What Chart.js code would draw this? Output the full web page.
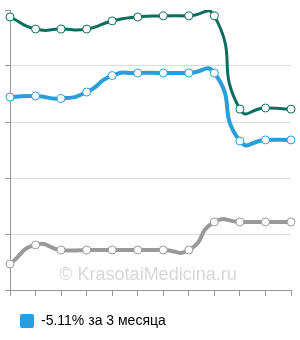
<!DOCTYPE html>
<html>
<head>
<meta charset="utf-8">
<script src="https://cdn.jsdelivr.net/npm/chart.js@4"></script>
<style>
  html, body { margin: 0; padding: 0; background: #fff; }
  #wrap { width: 300px; height: 340px; }
</style>
</head>
<body>
<div id="wrap"><canvas id="lineChart" width="300" height="340"></canvas></div>
<script>
var labels = ['1', '2', '3', '4', '5', '6', '7', '8', '9', '10', '11', '12'];
var tealValues = [97.5, 93.2, 93.2, 93.2, 96.1, 97.5, 97.9, 97.9, 97.9, 64.6, 65.0, 64.6];
var blueValues = [68.9, 69.3, 68.4, 70.7, 76.6, 77.5, 77.5, 77.5, 77.5, 53.2, 53.6, 53.6];
var grayValues = [9.3, 16.1, 14.3, 14.3, 14.3, 14.3, 14.3, 14.3, 24.3, 24.3, 24.3, 24.3];
var legendText = '-5.11% за 3 месяца';
var watermark = '\u00A9 KrasotaiMedicina.ru';

var watermarkPlugin = {
    id: 'watermark',
    beforeDatasetsDraw: function (chart) {
        var c = chart.ctx;
        c.save();
        c.font = '18px "Liberation Sans", Arial, sans-serif';
        c.fillStyle = 'rgba(205,205,205,0.8)';
        c.textAlign = 'center';
        c.textBaseline = 'alphabetic';
        c.fillText(watermark, 148, 280);
        c.restore();
    }
};

function lineSet(label, data, color, width) {
    return {
        label: label,
        data: data,
        borderColor: color,
        borderWidth: width,
        backgroundColor: color,
        pointRadius: 4,
        pointBorderWidth: 1,
        pointBackgroundColor: '#fff',
        pointBorderColor: color,
        tension: 0.6,
        capBezierPoints: false,
        fill: false,
        clip: { left: 10, right: 10, top: 0, bottom: 10 }
    };
}

var ctx = document.getElementById('lineChart').getContext('2d');
var myChart = new Chart(ctx, {
    type: 'line',
    data: {
        labels: labels,
        datasets: [
            lineSet('teal', tealValues, '#0c6d5e', 3),
            lineSet(legendText, blueValues, '#2a9edb', 4),
            lineSet('gray', grayValues, '#999999', 4)
        ]
    },
    options: {
        responsive: false,
        animation: false,
        layout: { padding: { top: 10, right: 9, left: 0, bottom: 2 } },
        elements: { line: { capBezierPoints: false } },
        plugins: {
            tooltip: { enabled: false },
            legend: {
                position: 'bottom',
                align: 'start',
                labels: {
                    boxWidth: 14,
                    boxHeight: 14,
                    padding: 20,
                    color: '#333',
                    font: { family: '"Liberation Sans", Arial, sans-serif', size: 14 },
                    generateLabels: function (chart) {
                        return [{
                            text: legendText,
                            fillStyle: '#2a9edb',
                            strokeStyle: '#2a9edb',
                            lineWidth: 0,
                            borderRadius: 2,
                            datasetIndex: 1
                        }];
                    }
                }
            }
        },
        scales: {
            x: {
                ticks: { display: false },
                grid: { drawOnChartArea: false, tickLength: 6, tickColor: '#999' },
                border: { color: '#999' },
                afterFit: function (s) { s.height = 4; }
            },
            y: {
                min: 0,
                max: 100,
                ticks: { display: false, stepSize: 20 },
                grid: {
                    color: function (c) { return c.tick && c.tick.value === 100 ? 'rgba(0,0,0,0)' : '#dcdcdc'; },
                    tickColor: '#999',
                    tickLength: 5
                },
                border: { color: '#999' },
                afterFit: function (s) { s.width = 10; }
            }
        }
    },
    plugins: [watermarkPlugin]
});
</script>
</body>
</html>
